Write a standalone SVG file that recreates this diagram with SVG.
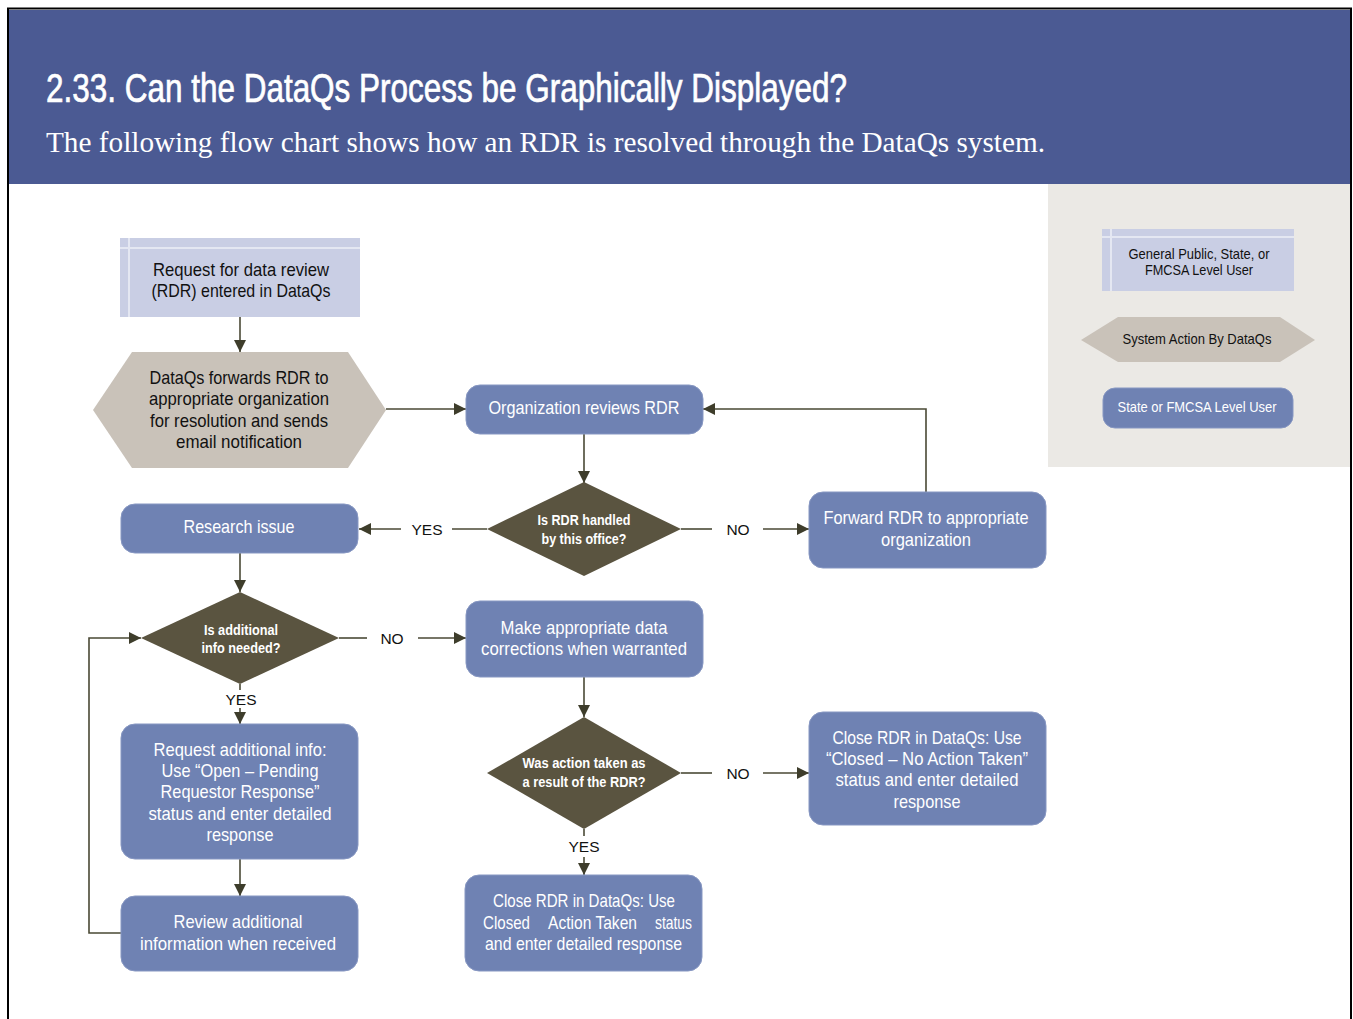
<svg xmlns="http://www.w3.org/2000/svg" width="1353" height="1019" viewBox="0 0 1353 1019">
<style>
.t{font-family:"Liberation Sans",Arial,sans-serif;text-anchor:middle}
.w{fill:#ffffff;font-size:19px}
.k{fill:#111111;font-size:18.5px}
.d{fill:#ffffff;font-size:14px;font-weight:bold}
.lg{fill:#111111;font-size:14.5px}
.lb{fill:#111111;font-size:15.5px}
.blue{fill:#6F82B3;stroke:#8797C2;stroke-width:1}
.user{fill:#C9CEE4}
.stripe{stroke:#E4E7F2;stroke-width:2;fill:none}
.hex{fill:#C9C2B9}
.dia{fill:#5A5440}
.c{fill:none;stroke:#4A4935;stroke-width:1.6}
</style>
<defs>
<marker id="ah" viewBox="0 0 10 10" refX="10" refY="5" markerWidth="12" markerHeight="12" markerUnits="userSpaceOnUse" orient="auto">
<path d="M0,0 L10,5 L0,10 z" fill="#3E3D2B"/>
</marker>
</defs>
<rect x="8" y="8.5" width="1343" height="1100" fill="#ffffff" stroke="#000000" stroke-width="2"/>
<g id="header">
<rect x="9" y="10" width="1341" height="174" fill="#4B5A93"/>
<text x="46" y="102" font-family="'Liberation Sans',Arial,sans-serif" font-size="40" fill="#ffffff" stroke="#ffffff" stroke-width="0.7" textLength="801" lengthAdjust="spacingAndGlyphs">2.33. Can the DataQs Process be Graphically Displayed?</text>
<text x="46" y="152" font-family="'Liberation Serif','Times New Roman',serif" font-size="29" fill="#ffffff" textLength="999" lengthAdjust="spacingAndGlyphs">The following flow chart shows how an RDR is resolved through the DataQs system.</text>
</g>
<g id="legend">
<rect x="1048" y="184" width="302" height="283" fill="#EBE9E5"/>
<g id="legend-user">
<rect class="user" x="1102" y="229" width="192" height="62"/>
<path class="stripe" d="M1102,237 H1294 M1111,229 V291"/>
<text class="t lg"><tspan x="1199" y="259" textLength="141" lengthAdjust="spacingAndGlyphs">General Public, State, or</tspan><tspan x="1199" y="275" textLength="108" lengthAdjust="spacingAndGlyphs">FMCSA Level User</tspan></text>
</g>
<g id="legend-system">
<polygon class="hex" points="1081,340 1118,317 1280,317 1315,340 1280,362 1118,362"/>
<text class="t lg" x="1197" y="344" textLength="149" lengthAdjust="spacingAndGlyphs">System Action By DataQs</text>
</g>
<g id="legend-state">
<rect class="blue" x="1103" y="388" width="190" height="40" rx="12"/>
<text class="t lg" x="1197" y="412" style="fill:#ffffff" textLength="159" lengthAdjust="spacingAndGlyphs">State or FMCSA Level User</text>
</g>
</g>
<g id="connectors">
<path class="c" d="M240,317 V352" marker-end="url(#ah)"/>
<path class="c" d="M386,409 H466" marker-end="url(#ah)"/>
<path class="c" d="M926,492 V409 H703" marker-end="url(#ah)"/>
<path class="c" d="M584,434 V483" marker-end="url(#ah)"/>
<path class="c" d="M487,529 H452"/>
<path class="c" d="M401,529 H359" marker-end="url(#ah)"/>
<path class="c" d="M681,529 H712"/>
<path class="c" d="M763,529 H809" marker-end="url(#ah)"/>
<path class="c" d="M240,553 V592" marker-end="url(#ah)"/>
<path class="c" d="M339,638 H367"/>
<path class="c" d="M418,638 H466" marker-end="url(#ah)"/>
<path class="c" d="M240,684 V690"/>
<path class="c" d="M240,708 V724" marker-end="url(#ah)"/>
<path class="c" d="M240,859 V896" marker-end="url(#ah)"/>
<path class="c" d="M121,933 H89 V638 H141" marker-end="url(#ah)"/>
<path class="c" d="M584,677 V717" marker-end="url(#ah)"/>
<path class="c" d="M681,773 H712"/>
<path class="c" d="M763,773 H809" marker-end="url(#ah)"/>
<path class="c" d="M584,829 V836"/>
<path class="c" d="M584,857 V875" marker-end="url(#ah)"/>
<text class="t lb" x="427" y="535">YES</text>
<text class="t lb" x="738" y="535">NO</text>
<text class="t lb" x="392" y="644">NO</text>
<text class="t lb" x="241" y="705">YES</text>
<text class="t lb" x="738" y="779">NO</text>
<text class="t lb" x="584" y="852">YES</text>
</g>
<g id="n-request">
<rect class="user" x="120" y="238" width="240" height="79"/>
<path class="stripe" d="M120,248 H360 M129,238 V317"/>
<text class="t k"><tspan x="241" y="276" textLength="176" lengthAdjust="spacingAndGlyphs">Request for data review</tspan><tspan x="241" y="297" textLength="179" lengthAdjust="spacingAndGlyphs">(RDR) entered in DataQs</tspan></text>
</g>
<g id="n-forward-system">
<polygon class="hex" points="93,410 132,352 348,352 386,410 348,468 132,468"/>
<text class="t k"><tspan x="239" y="384" textLength="179" lengthAdjust="spacingAndGlyphs">DataQs forwards RDR to</tspan><tspan x="239" y="405" textLength="180" lengthAdjust="spacingAndGlyphs">appropriate organization</tspan><tspan x="239" y="427" textLength="178" lengthAdjust="spacingAndGlyphs">for resolution and sends</tspan><tspan x="239" y="448" textLength="126" lengthAdjust="spacingAndGlyphs">email notification</tspan></text>
</g>
<g id="n-org-reviews">
<rect class="blue" x="466" y="385" width="237" height="49" rx="14"/>
<text class="t w" x="584" y="414" textLength="191" lengthAdjust="spacingAndGlyphs">Organization reviews RDR</text>
</g>
<g id="n-handled">
<polygon class="dia" points="584,482 681,529 584,576 487,529"/>
<text class="t d"><tspan x="584" y="525" textLength="93" lengthAdjust="spacingAndGlyphs">Is RDR handled</tspan><tspan x="584" y="544" textLength="85" lengthAdjust="spacingAndGlyphs">by this office?</tspan></text>
</g>
<g id="n-research">
<rect class="blue" x="121" y="504" width="237" height="49" rx="14"/>
<text class="t w" x="239" y="533" textLength="111" lengthAdjust="spacingAndGlyphs">Research issue</text>
</g>
<g id="n-forward-org">
<rect class="blue" x="809" y="492" width="237" height="76" rx="14"/>
<text class="t w"><tspan x="926" y="524" textLength="205" lengthAdjust="spacingAndGlyphs">Forward RDR to appropriate</tspan><tspan x="926" y="546" textLength="90" lengthAdjust="spacingAndGlyphs">organization</tspan></text>
</g>
<g id="n-additional">
<polygon class="dia" points="240,592 339,638 240,684 141,638"/>
<text class="t d"><tspan x="241" y="635" textLength="74" lengthAdjust="spacingAndGlyphs">Is additional</tspan><tspan x="241" y="653" textLength="79" lengthAdjust="spacingAndGlyphs">info needed?</tspan></text>
</g>
<g id="n-corrections">
<rect class="blue" x="466" y="601" width="237" height="76" rx="14"/>
<text class="t w"><tspan x="584" y="634" textLength="167" lengthAdjust="spacingAndGlyphs">Make appropriate data</tspan><tspan x="584" y="655" textLength="206" lengthAdjust="spacingAndGlyphs">corrections when warranted</tspan></text>
</g>
<g id="n-request-info">
<rect class="blue" x="121" y="724" width="237" height="135" rx="14"/>
<text class="t w"><tspan x="240" y="756" textLength="173" lengthAdjust="spacingAndGlyphs">Request additional info:</tspan><tspan x="240" y="777" textLength="157" lengthAdjust="spacingAndGlyphs">Use “Open – Pending</tspan><tspan x="240" y="798" textLength="159" lengthAdjust="spacingAndGlyphs">Requestor Response”</tspan><tspan x="240" y="820" textLength="183" lengthAdjust="spacingAndGlyphs">status and enter detailed</tspan><tspan x="240" y="841" textLength="67" lengthAdjust="spacingAndGlyphs">response</tspan></text>
</g>
<g id="n-review">
<rect class="blue" x="121" y="896" width="237" height="75" rx="14"/>
<text class="t w"><tspan x="238" y="928" textLength="129" lengthAdjust="spacingAndGlyphs">Review additional</tspan><tspan x="238" y="950" textLength="196" lengthAdjust="spacingAndGlyphs">information when received</tspan></text>
</g>
<g id="n-action-taken">
<polygon class="dia" points="584,717 681,773 584,829 487,773"/>
<text class="t d"><tspan x="584" y="768" textLength="123" lengthAdjust="spacingAndGlyphs">Was action taken as</tspan><tspan x="584" y="787" textLength="123" lengthAdjust="spacingAndGlyphs">a result of the RDR?</tspan></text>
</g>
<g id="n-close-no">
<rect class="blue" x="809" y="712" width="237" height="113" rx="14"/>
<text class="t w"><tspan x="927" y="744" textLength="189" lengthAdjust="spacingAndGlyphs">Close RDR in DataQs: Use</tspan><tspan x="927" y="765" textLength="202" lengthAdjust="spacingAndGlyphs">“Closed – No Action Taken”</tspan><tspan x="927" y="786" textLength="183" lengthAdjust="spacingAndGlyphs">status and enter detailed</tspan><tspan x="927" y="808" textLength="67" lengthAdjust="spacingAndGlyphs">response</tspan></text>
</g>
<g id="n-close-yes">
<rect class="blue" x="465" y="875" width="237" height="96" rx="14"/>
<text class="t w" x="584" y="907" textLength="182" lengthAdjust="spacingAndGlyphs">Close RDR in DataQs: Use</text>
<text class="t w" x="506.5" y="929" textLength="47" lengthAdjust="spacingAndGlyphs">Closed</text>
<text class="t w" x="592.5" y="929" textLength="89" lengthAdjust="spacingAndGlyphs">Action Taken</text>
<text class="t w" x="673.5" y="929" textLength="37" lengthAdjust="spacingAndGlyphs">status</text>
<text class="t w" x="583.5" y="950" textLength="197" lengthAdjust="spacingAndGlyphs">and enter detailed response</text>
</g>
</svg>
